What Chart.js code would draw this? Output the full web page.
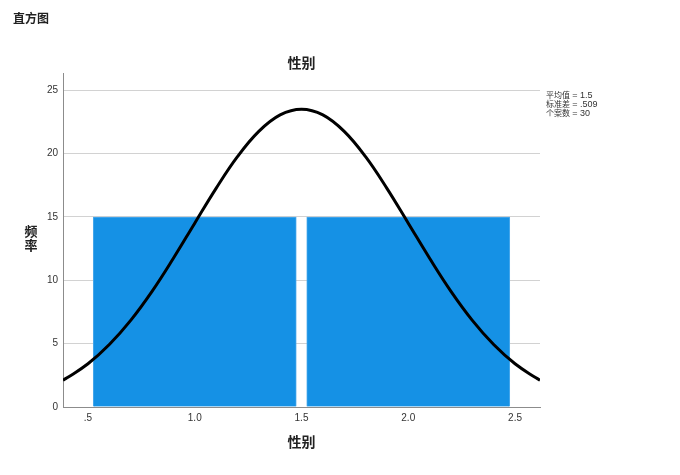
<!DOCTYPE html>
<html lang="zh-CN">
<head>
    <meta charset="UTF-8">
    <title>直方图 - 性别</title>
    <script src="https://cdn.jsdelivr.net/npm/chart.js"></script>
    <style>
        body {
            margin: 0;
            background: #ffffff;
            font-family: "Liberation Sans", "Noto Sans CJK SC", sans-serif;
        }
        #wrap {
            position: relative;
            width: 680px;
            height: 475px;
            overflow: hidden;
        }
        #chart {
            position: absolute;
            left: 0;
            top: 0;
        }
        .heading {
            position: absolute;
            left: 13px;
            top: 9px;
            font: bold 12px "Noto Sans CJK SC", sans-serif;
            color: #222;
        }
        .ylabel {
            position: absolute;
            left: 23px;
            top: 224px;
            width: 16px;
            font: bold 13px/14px "Noto Sans CJK SC", sans-serif;
            color: #222;
            text-align: center;
        }
        .stats {
            position: absolute;
            left: 546px;
            top: 91px;
            font-size: 8px;
            color: #333;
            white-space: nowrap;
        }
        .stats div {
            height: 9px;
            line-height: 9px;
        }
        .stats span {
            font-size: 9px;
        }
    </style>
</head>
<body>
<div id="wrap">
    <canvas id="chart" width="680" height="475"></canvas>
    <div class="heading">直方图</div>
    <div class="ylabel">频<br>率</div>
    <div class="stats">
        <div>平均值 <span>= 1.5</span></div>
        <div>标准差 <span>= .509</span></div>
        <div>个案数 <span>= 30</span></div>
    </div>
</div>

<script>
    // histogram bins (gender coded 1 / 2)
    const binCenters = [1, 2];
    const binCounts = [15, 15];

    // normal curve
    const curveX = [0.383, 0.4, 0.5, 0.6, 0.7, 0.8, 0.9, 1.0, 1.1, 1.2, 1.3, 1.4, 1.5,
                    1.6, 1.7, 1.8, 1.9, 2.0, 2.1, 2.2, 2.3, 2.4, 2.5, 2.6, 2.617];
    const curveY = [2.12, 2.28, 3.41, 4.93, 6.84, 9.13, 11.74, 14.51, 17.26, 19.76, 21.76, 23.06, 23.51,
                    23.06, 21.76, 19.76, 17.26, 14.51, 11.74, 9.13, 6.84, 4.93, 3.41, 2.28, 2.12];

    const yTicks = [0, 5, 10, 15, 20, 25];
    const xTicks = [0.5, 1.0, 1.5, 2.0, 2.5];
    const xTickLabels = ['.5', '1.0', '1.5', '2.0', '2.5'];

    const tickFont = { family: '"Liberation Sans", Arial, sans-serif', size: 10 };
    const cjkBold = { family: '"Noto Sans CJK SC", sans-serif', size: 14, weight: 'bold' };

    new Chart(document.getElementById('chart'), {
        type: 'bar',
        data: {
            datasets: [
                {
                    type: 'line',
                    label: '正态',
                    data: curveX.map((x, i) => ({ x: x, y: curveY[i] })),
                    borderColor: '#000000',
                    borderWidth: 3,
                    pointRadius: 0,
                    tension: 0.4,
                    fill: false,
                    order: 0
                },
                {
                    label: '频率',
                    data: binCenters.map((x, i) => ({ x: x, y: binCounts[i] })),
                    backgroundColor: '#1591e5',
                    borderColor: '#4aa9ec',
                    borderWidth: 1,
                    barThickness: 'flex',
                    categoryPercentage: 1.0,
                    barPercentage: 0.951,
                    order: 1
                }
            ]
        },
        options: {
            responsive: false,
            animation: false,
            layout: { padding: { top: 54, right: 140, bottom: 0, left: 0 } },
            plugins: {
                legend: { display: false },
                tooltip: { enabled: false },
                title: {
                    display: true,
                    text: '性别',
                    fullSize: false,
                    color: '#222',
                    font: cjkBold,
                    padding: { top: 0, bottom: 3 }
                }
            },
            scales: {
                x: {
                    type: 'linear',
                    offset: false,
                    min: 0.383,
                    max: 2.617,
                    afterBuildTicks: axis => { axis.ticks = xTicks.map(v => ({ value: v })); },
                    afterFit: axis => { axis.height = 68; },
                    ticks: {
                        color: '#333',
                        font: tickFont,
                        padding: 5,
                        maxRotation: 0,
                        callback: (v) => xTickLabels[xTicks.indexOf(v)]
                    },
                    grid: { display: false, drawTicks: false, offset: false },
                    border: { display: true, color: '#8c8c8c', width: 1 },
                    title: {
                        display: true,
                        text: '性别',
                        color: '#222',
                        font: cjkBold,
                        padding: { top: 4, bottom: 25 }
                    }
                },
                y: {
                    min: 0,
                    max: 26.3,
                    afterBuildTicks: axis => { axis.ticks = yTicks.map(v => ({ value: v })); },
                    afterFit: axis => { axis.width = 63; },
                    ticks: {
                        color: '#333',
                        font: tickFont,
                        padding: 5
                    },
                    grid: { color: '#d2d2d2', lineWidth: 1, drawTicks: false },
                    border: { display: true, color: '#8c8c8c', width: 1 }
                }
            }
        }
    });
</script>
</body>
</html>
